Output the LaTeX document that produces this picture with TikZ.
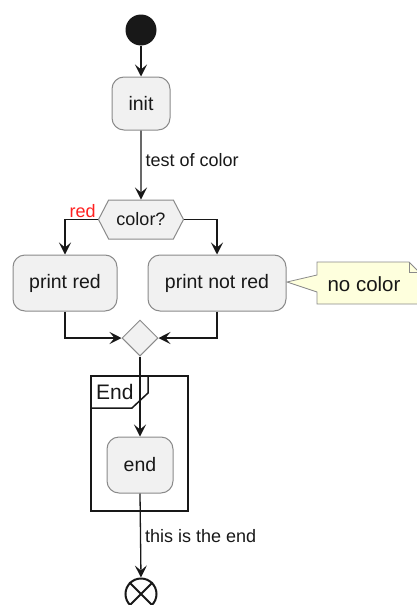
\documentclass[tikz,border=0pt]{standalone}
\usepackage{fontspec}
\setmainfont{Liberation Sans}
\usetikzlibrary{arrows.meta,shapes.geometric,shapes.symbols}
\definecolor{actfill}{HTML}{F1F1F1}
\definecolor{actline}{HTML}{8A8A8A}
\definecolor{ink}{HTML}{181818}
\definecolor{notefill}{HTML}{FEFFDD}
\definecolor{labred}{HTML}{FF2020}
\tikzset{
  act/.style={draw=actline, fill=actfill, line width=1pt, rounded corners=12pt, inner sep=0pt, font=\fontsize{19.5}{21}\selectfont, text=ink},
  flow/.style={draw=ink, line width=1.3pt, -{Stealth[length=12pt,width=12pt,inset=5pt]}},
  lbl/.style={font=\fontsize{18}{20}\selectfont, text=ink, inner sep=0pt, anchor=west},
}
\begin{document}
\begin{tikzpicture}[x=1pt,y=-1pt]
\useasboundingbox (0,0) rectangle (417,605);
% start
\node[circle, fill=ink, minimum size=31pt, inner sep=0pt] (start) at (141,30) {};
\node[act, minimum width=58pt, minimum height=53pt] (init) at (141,103.5) {init};
\node[draw=actline, fill=actfill, line width=1pt, shape=signal, signal to=east and west, signal pointer angle=125, minimum width=85pt, minimum height=39pt, inner sep=0pt, font=\fontsize{18}{20}\selectfont, text=ink] (color) at (141,219.5) {color?};
\node[act, minimum width=104pt, minimum height=56pt] (pred) at (65,283) {print red};
\node[act, minimum width=138pt, minimum height=56pt] (pnred) at (217,283) {print not red};
\node[diamond, draw=actline, fill=actfill, line width=1pt, minimum width=36pt, minimum height=36pt, inner sep=0pt] (merge) at (140,338) {};
% group
\draw[ink, line width=2pt] (91,376) rectangle (188,511);
\draw[ink, line width=1.5pt] (91,408) -- (132,408) -- (148,393) -- (148,376);
\node[font=\fontsize{21}{23}\selectfont, text=ink, inner sep=0pt, anchor=west] (grp) at (96,392) {End};
\node[act, minimum width=66pt, minimum height=56pt] (endb) at (140,465) {end};
% stop
\node[circle, draw=ink, line width=2pt, fill=white, minimum size=31pt, inner sep=0pt] (stop) at (141,594) {};
\draw[ink, line width=2pt] (stop.north east) -- (stop.south west) (stop.north west) -- (stop.south east);
% note
\fill[notefill, draw=actline, line width=0.8pt] (317,262) -- (409,262) -- (419,272) -- (419,304) -- (317,304) -- (317,292) -- (287,282) -- (317,275) -- cycle;
\draw[actline, line width=0.8pt] (409,262) -- (409,272) -- (419,272);
\node[font=\fontsize{20.5}{22}\selectfont, text=ink, inner sep=0pt] (note) at (364,284) {no color};
% connectors
\draw[flow] (start) -- (init);
\draw[flow] (init) -- node[lbl, xshift=4pt, yshift=5pt] {test of color} (color);
\draw[flow] (color.west) -| (pred.north);
\node[font=\fontsize{18}{20}\selectfont, text=labred, inner sep=0pt, anchor=south east] (redlbl) at ([xshift=-2pt,yshift=2pt]color.west) {red};
\draw[flow] (color.east) -| (pnred.north);
\draw[flow] (pred.south) |- (merge.west);
\draw[flow] (pnred.south) |- (merge.east);
\draw[flow] (merge.south) -- (endb.north);
\draw[flow] (endb.south) -- node[lbl, xshift=4pt, yshift=-1pt] {this is the end} (stop.north);
\end{tikzpicture}
\end{document}
